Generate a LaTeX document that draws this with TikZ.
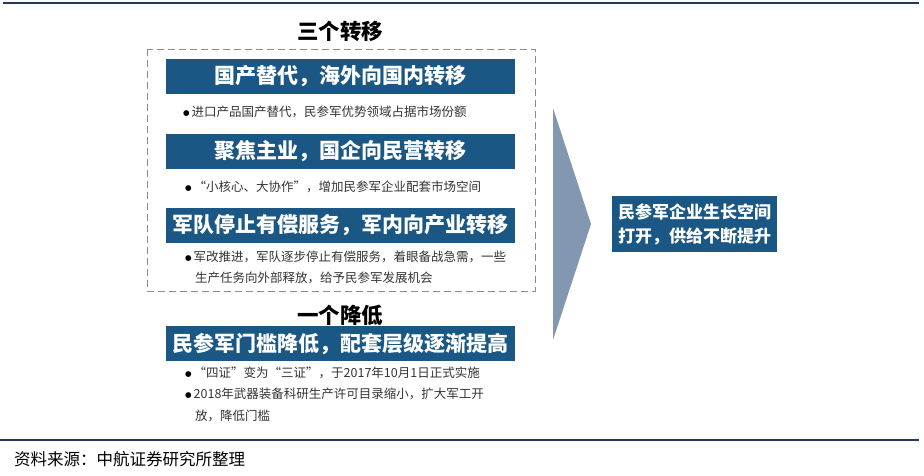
\documentclass[tikz,border=0pt]{standalone}
\usepackage{fontspec}
\setmainfont{Noto Sans CJK SC}
\newfontfamily\symfont{DejaVu Sans}
\usepackage{xcolor}
\definecolor{ShiftBlue}{HTML}{1A5784}
\definecolor{ShiftNavy}{HTML}{1F3B5C}
\definecolor{ShiftArrow}{HTML}{8497B0}
\definecolor{ShiftDash}{HTML}{8C8C8C}
\definecolor{ShiftText}{HTML}{333333}
\usetikzlibrary{positioning}
\newcommand{\shiftdot}{\raisebox{1.6pt}{\symfont\fontsize{7.5}{7.5}\selectfont\color{black}●}\hspace{2pt}}

\begin{document}
\begin{tikzpicture}[
  x=1pt,y=-1pt,
  headbox/.style={fill=ShiftBlue,text=white,font=\fontsize{21}{24}\selectfont\bfseries,minimum width=349pt,minimum height=35pt,inner sep=0pt},
  heading/.style={font=\fontsize{21.5}{24}\selectfont\bfseries,inner sep=0pt},
  point/.style={anchor=west,align=left,text=ShiftText,font=\fontsize{12.5}{21.5}\selectfont,inner sep=0pt},
  rule/.style={draw=ShiftNavy,line width=1.4pt}
]
\useasboundingbox (0,0) rectangle (924,475);
% frame lines
\coordinate (tl) at (3,3);
\coordinate (tr) at (919,3);
\coordinate (bl) at (0,440);
\coordinate (br) at (919,440);
\draw[rule] (tl) -- (tr);
\draw[rule] (bl) -- (br);

% three shifts
\node[heading] (t1) at (340,31) {三个转移};
\draw[ShiftDash,line width=0.8pt,dash pattern=on 7pt off 4pt] (147,49) rectangle (535,291);
\node[headbox] (h1) at (340.5,76.5) {国产替代，海外向国内转移};
\node[point] (p1) at (183,112) {\shiftdot 进口产品国产替代，民参军优势领域占据市场份额};
\node[headbox] (h2) at (340.5,151) {聚焦主业，国企向民营转移};
\node[point] (p2) at (185,187) {\shiftdot “小核心、大协作”，增加民参军企业配套市场空间};
\node[headbox] (h3) at (340.5,225.5) {军队停止有偿服务，军内向产业转移};
\node[point] (p3) at (185,267.5) {\shiftdot 军改推进，军队逐步停止有偿服务，着眼备战急需，一些\\[-0.5pt]
  \hspace{10pt}生产任务向外部释放，给予民参军发展机会};

% one reduction
\node[heading] (t2) at (340,315) {一个降低};
\node[headbox] (h4) at (340.5,343.5) {民参军门槛降低，配套层级逐渐提高};
\node[point] (p4) at (185,373) {\shiftdot “四证”变为“三证”，于2017年10月1日正式实施};
\node[point] (p5) at (185,405) {\shiftdot 2018年武器装备科研生产许可目录缩小，扩大军工开\\
  \hspace{10pt}放，降低门槛};

% arrow and result
\fill[ShiftArrow] (553,108) -- (591,224) -- (553,340) -- cycle;
\node[fill=ShiftBlue,text=white,font=\fontsize{17}{24}\selectfont\bfseries,align=left,minimum width=165pt,minimum height=56pt,inner sep=0pt] (res) at (694.5,224) {民参军企业生长空间\\打开，供给不断提升};

% source
\node[anchor=west,inner sep=0pt,font=\fontsize{16.5}{18}\selectfont] (src) at (14,459) {资料来源：中航证券研究所整理};
\end{tikzpicture}
\end{document}
